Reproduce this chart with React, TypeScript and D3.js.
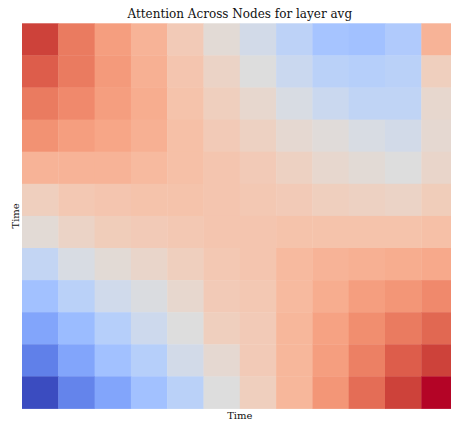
import React from "react";
import * as d3 from "d3";

const title = "Attention Across Nodes for layer avg";
const xLabel = "Time";
const yLabel = "Time";
const timeSteps = d3.range(12);

// normalized attention values (0 = min, 1 = max), rows top to bottom
const row0 = [0.93, 0.82, 0.74, 0.68, 0.6, 0.52, 0.46, 0.39, 0.32, 0.31, 0.35, 0.68];
const row1 = [0.88, 0.82, 0.75, 0.69, 0.62, 0.56, 0.5, 0.43, 0.38, 0.37, 0.38, 0.58];
const row2 = [0.82, 0.79, 0.74, 0.7, 0.63, 0.58, 0.54, 0.48, 0.43, 0.4, 0.4, 0.54];
const row3 = [0.77, 0.74, 0.72, 0.69, 0.64, 0.6, 0.57, 0.53, 0.51, 0.48, 0.46, 0.53];
const row4 = [0.68, 0.68, 0.68, 0.66, 0.64, 0.62, 0.6, 0.57, 0.54, 0.52, 0.5, 0.55];
const row5 = [0.58, 0.61, 0.62, 0.63, 0.63, 0.62, 0.61, 0.6, 0.58, 0.57, 0.56, 0.59];
const row6 = [0.52, 0.56, 0.59, 0.6, 0.61, 0.62, 0.62, 0.63, 0.63, 0.63, 0.63, 0.64];
const row7 = [0.41, 0.48, 0.52, 0.55, 0.58, 0.61, 0.62, 0.66, 0.68, 0.69, 0.7, 0.71];
const row8 = [0.31, 0.38, 0.45, 0.49, 0.54, 0.6, 0.61, 0.66, 0.7, 0.74, 0.76, 0.79];
const row9 = [0.22, 0.29, 0.37, 0.44, 0.5, 0.58, 0.6, 0.67, 0.73, 0.78, 0.82, 0.86];
const row10 = [0.12, 0.22, 0.31, 0.37, 0.46, 0.53, 0.6, 0.67, 0.74, 0.81, 0.88, 0.93];
const row11 = [0.0, 0.13, 0.22, 0.31, 0.38, 0.5, 0.58, 0.67, 0.76, 0.85, 0.93, 1.0];
const attention = [row0, row1, row2, row3, row4, row5, row6, row7, row8, row9, row10, row11];

// matplotlib "coolwarm" control points
const coolwarmStops = [
  [59, 76, 192], [68, 90, 204], [77, 104, 215], [87, 117, 225], [98, 130, 234],
  [108, 142, 241], [119, 154, 247], [130, 165, 251], [141, 176, 254], [152, 185, 255],
  [163, 194, 255], [174, 201, 253], [184, 208, 249], [194, 213, 244], [204, 217, 238],
  [213, 219, 230], [221, 221, 221], [229, 216, 209], [236, 211, 197], [241, 204, 185],
  [245, 196, 173], [247, 187, 160], [247, 177, 148], [247, 166, 135], [244, 154, 123],
  [241, 141, 111], [236, 127, 99], [229, 112, 88], [222, 96, 77], [213, 80, 66],
  [203, 62, 56], [192, 40, 47], [180, 4, 38],
];

const W = 451;
const H = 423;
const margin = { left: 22, top: 23.3, right: 457.6, bottom: 408.5 };

export default function App() {
  const x = d3.scaleBand<number>().domain(timeSteps).range([margin.left, margin.right]).padding(0);
  const y = d3.scaleBand<number>().domain(timeSteps).range([margin.top, margin.bottom]).padding(0);
  const color = d3
    .scaleLinear<string>()
    .domain(coolwarmStops.map((_, i) => i / (coolwarmStops.length - 1)))
    .range(coolwarmStops.map((c) => d3.rgb(c[0], c[1], c[2]).formatHex()))
    .interpolate(d3.interpolateRgb)
    .clamp(true);
  const font = "'DejaVu Serif', serif";
  const cx = (margin.left + margin.right) / 2;
  const cy = (margin.top + margin.bottom) / 2;
  return (
    <svg
      width={W}
      height={H}
      style={{ position: "absolute", left: 0, top: 0, overflow: "hidden", background: "#fff" }}
    >
      {attention.map((row, i) =>
        row.map((v, j) => (
          <rect
            key={`${i}-${j}`}
            x={x(j)}
            y={y(i)}
            width={x.bandwidth() + 0.4}
            height={y.bandwidth() + 0.4}
            fill={color(v)}
          />
        ))
      )}
      <text x={cx} y={18} textAnchor="middle" fontFamily={font} fontSize={12} fill="#111">
        {title}
      </text>
      <text x={cx} y={419.3} textAnchor="middle" fontFamily={font} fontSize={10} fill="#111">
        {xLabel}
      </text>
      <text
        transform={`translate(18.5,${cy}) rotate(-90)`}
        textAnchor="middle"
        fontFamily={font}
        fontSize={10}
        fill="#111"
      >
        {yLabel}
      </text>
    </svg>
  );
}
